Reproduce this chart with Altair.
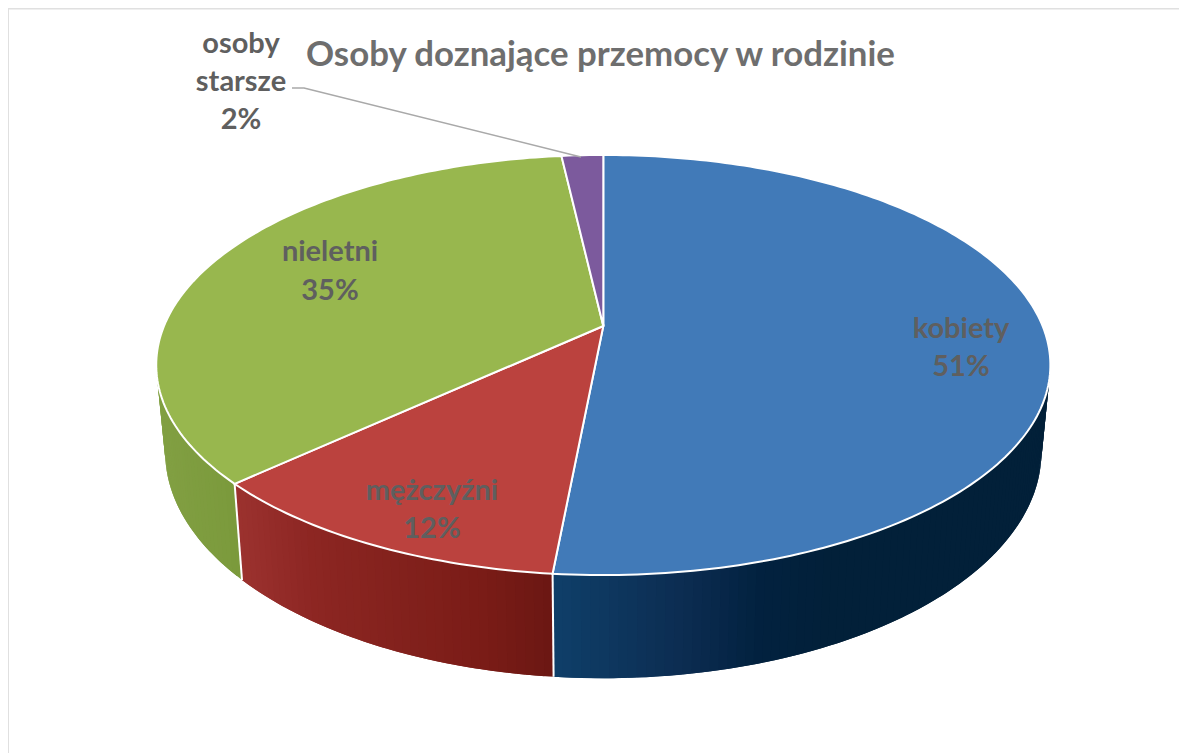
import math
import altair as alt
import pandas as pd

# ---- values ----
categories = ["kobiety", "mężczyźni", "nieletni", "osoby starsze"]
shares = [51.5, 11.6, 35.1, 1.8]
percent_labels = ["51%", "12%", "35%", "2%"]
title_text = "Osoby doznające przemocy w rodzinie"

# ---- styles ----
face_colors = ["#417ab8", "#bb423e", "#98b74e", "#7c5a9d"]
wall_stops = {
    "kobiety": [(553, "#0f3f69"), (680, "#0c2d52"), (763, "#02213f"), (830, "#022039"), (1060, "#022039")],
    "mężczyźni": [(233, "#9c322f"), (313, "#8c2622"), (480, "#7a1c17"), (553, "#6b1713")],
    "nieletni": [(150, "#82a043"), (243, "#7a993b")],
}

# ---- layout: page pixels, perspective of the tilted disc ----
W, H = 1171, 745
CX, CY = 603.3, 326.0
A, B, K = 439.3, 202.8, 0.1857
DEPTH, BASE_SCALE = 84.0, 0.98


def project(theta, r=1.0, lower=False):
    u, v = r * math.sin(theta), -r * math.cos(theta)
    w = 1 - K * v
    if lower:
        return CX + BASE_SCALE * A * u / w, CY + (B * v + DEPTH) / w
    return CX + A * u / w, CY + B * v / w


def hex_mix(stops, x):
    if x <= stops[0][0]:
        return stops[0][1]
    for (x0, c0), (x1, c1) in zip(stops, stops[1:]):
        if x <= x1:
            t = (x - x0) / (x1 - x0)
            a = [int(c0[i:i + 2], 16) for i in (1, 3, 5)]
            b = [int(c1[i:i + 2], 16) for i in (1, 3, 5)]
            return "#%02x%02x%02x" % tuple(round(p + (q - p) * t) for p, q in zip(a, b))
    return stops[-1][1]


total = sum(shares)
bounds = [0.0]
for s in shares:
    bounds.append(bounds[-1] + s / total * 2 * math.pi)

faces, walls, seams = [], [], []
for c, col, t0, t1 in zip(categories, face_colors, bounds, bounds[1:]):
    x, y = project(0, 0)
    faces.append(dict(key=c, i=0, x=x, y=y, color=col))
    n = max(4, int(math.degrees(t1 - t0)))
    for k in range(n + 1):
        x, y = project(t0 + (t1 - t0) * k / n)
        faces.append(dict(key=c, i=k + 1, x=x, y=y, color=col))
    if c in wall_stops:
        lo, hi = max(t0, math.radians(70)), min(t1, math.radians(290))
        m = max(2, int(math.degrees(hi - lo)))
        step = (hi - lo) / m
        for k in range(m):
            a0 = lo + step * k
            a1 = min(hi, a0 + 2 * step)   # overlaps the next strip, which paints over it
            am = a0 + step * 0.5
            shade = hex_mix(wall_stops[c], project(am)[0])
            quad = [project(a0), project(am), project(a1), project(a1, lower=True),
                    project(am, lower=True), project(a0, lower=True)]
            for j, (x, y) in enumerate(quad):
                walls.append(dict(key=f"{c}{k:03d}", i=j, x=x, y=y, color=shade))

for t in bounds[1:3]:
    for j, (x, y) in enumerate([project(t), project(t, lower=True)]):
        seams.append(dict(key=str(t), i=j, x=x, y=y))

# leader line and label anchors
leader = [dict(i=0, x=292, y=88), dict(i=1, x=304, y=88), dict(i=2, x=581, y=157)]
label_anchor = {
    "kobiety": (961, 329, 38),
    "mężczyźni": (432, 491, 38),
    "nieletni": (330, 252, 39),
    "osoby starsze": (241, 44, 38),
}
labels = []
for c, p in zip(categories, percent_labels):
    x, y, dy = label_anchor[c]
    for n, line in enumerate(c.split(" ") + [p]):
        labels.append(dict(x=x, y=y + n * dy, text=line))

xs = alt.Scale(domain=[8, 8 + W], range=[0, W])
ys = alt.Scale(domain=[8, 8 + H], range=[0, H])
X = alt.X("x:Q", scale=xs, axis=None)
Y = alt.Y("y:Q", scale=ys, axis=None)

wall_layer = alt.Chart(pd.DataFrame(walls)).mark_line(
    interpolate="linear-closed", strokeWidth=0
).encode(x=X, y=Y, detail="key:N", order="i:Q", fill=alt.Fill("color:N", scale=None))

seam_layer = alt.Chart(pd.DataFrame(seams)).mark_line(color="white", strokeWidth=2).encode(
    x=X, y=Y, detail="key:N", order="i:Q")

face_layer = alt.Chart(pd.DataFrame(faces)).mark_line(
    interpolate="linear-closed", stroke="white", strokeWidth=2
).encode(x=X, y=Y, detail="key:N", order="i:Q", fill=alt.Fill("color:N", scale=None))

leader_layer = alt.Chart(pd.DataFrame(leader)).mark_line(color="#a9a9a9", strokeWidth=1.5).encode(
    x=X, y=Y, order="i:Q")

text_layer = alt.Chart(pd.DataFrame(labels)).mark_text(
    font="Lato", fontWeight="bold", fontSize=29, color="#5f5f5f", baseline="middle", align="center"
).encode(x=X, y=Y, text="text:N")

border_top = alt.Chart(pd.DataFrame({"a": [0]})).mark_rule(color="#e0e0e0", strokeWidth=2).encode(
    x=alt.value(0), x2=alt.value(W), y=alt.value(0.5))
border_left = alt.Chart(pd.DataFrame({"a": [0]})).mark_rule(color="#e0e0e0", strokeWidth=2).encode(
    x=alt.value(0), y=alt.value(0), y2=alt.value(H))

chart = alt.layer(
    border_top, border_left, wall_layer, seam_layer, face_layer, leader_layer, text_layer
).properties(
    width=W, height=H, padding=0, background="white",
    autosize=alt.AutoSizeParams(type="none"),
    title=alt.Title(title_text, anchor="start", frame="group", font="Lato", fontWeight="bold",
                    fontSize=34.8, color="#6e6e6e", dx=298, dy=88, baseline="middle"),
).configure_view(stroke=None)

chart.save("out.html", embed_options={"renderer": "svg", "actions": False})
